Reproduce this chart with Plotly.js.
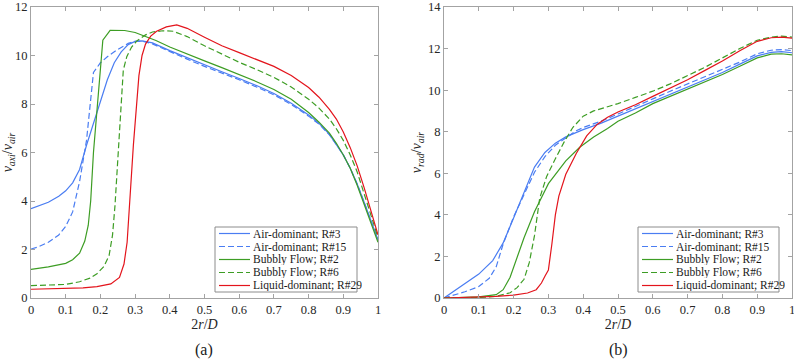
<!DOCTYPE html>
<html><head><meta charset="utf-8">
<script src="https://cdn.plot.ly/plotly-3.0.1.min.js"></script>
<style>html,body{margin:0;padding:0;background:#fff}#chart{width:794px;height:361px}</style>
</head><body><div id="chart"></div>
<script>
// ---------- data ----------
const seriesNames = ['Air-dominant; R#3','Air-dominant; R#15','Bubbly Flow; R#2','Bubbly Flow; R#6','Liquid-dominant; R#29'];
const xTicks = [0,0.1,0.2,0.3,0.4,0.5,0.6,0.7,0.8,0.9,1];
const xTickText = ['0','0.1','0.2','0.3','0.4','0.5','0.6','0.7','0.8','0.9','1'];
const yTicksA = [0,2,4,6,8,10,12];
const yTicksB = [0,2,4,6,8,10,12,14];

// (a) axial velocity
const a_r3_x  = [0,0.02,0.05,0.08,0.1,0.12,0.14,0.16,0.18,0.2,0.22,0.24,0.26,0.28,0.3,0.32,0.35,0.4,0.45,0.5,0.55,0.6,0.65,0.7,0.75,0.8,0.83,0.86,0.88,0.9,0.92,0.94,0.96,0.98,1.0];
const a_r3_y  = [3.68,3.78,3.95,4.2,4.42,4.75,5.3,6.3,7.2,8.1,9.0,9.7,10.15,10.45,10.58,10.6,10.52,10.2,9.9,9.6,9.33,9.05,8.76,8.43,8.03,7.55,7.2,6.75,6.35,5.9,5.35,4.7,3.95,3.15,2.4];
const a_r15_x = [0,0.02,0.05,0.08,0.1,0.12,0.14,0.16,0.17,0.18,0.2,0.22,0.25,0.28,0.3,0.32,0.35,0.4,0.45,0.5,0.55,0.6,0.65,0.7,0.75,0.8,0.83,0.86,0.88,0.9,0.92,0.94,0.96,0.98,1.0];
const a_r15_y = [2.02,2.1,2.3,2.6,2.95,3.55,4.8,6.5,7.9,9.3,9.7,9.95,10.25,10.5,10.58,10.6,10.48,10.15,9.85,9.55,9.28,9.0,8.7,8.38,7.98,7.5,7.17,6.73,6.33,5.9,5.35,4.7,3.95,3.15,2.4];
const a_r2_x  = [0,0.05,0.1,0.12,0.14,0.155,0.165,0.172,0.18,0.207,0.228,0.25,0.27,0.3,0.33,0.36,0.4,0.45,0.5,0.55,0.6,0.65,0.7,0.75,0.8,0.83,0.86,0.88,0.9,0.92,0.94,0.96,0.98,1.0];
const a_r2_y  = [1.18,1.28,1.43,1.58,1.85,2.35,3.0,4.0,6.0,10.63,11.04,11.05,11.03,10.95,10.8,10.62,10.35,10.08,9.78,9.5,9.22,8.92,8.6,8.2,7.65,7.25,6.8,6.38,5.9,5.35,4.65,3.85,3.05,2.3];
const a_r6_x  = [0,0.05,0.1,0.14,0.17,0.19,0.21,0.225,0.235,0.242,0.25,0.258,0.266,0.276,0.29,0.305,0.33,0.35,0.38,0.41,0.45,0.5,0.55,0.6,0.65,0.7,0.75,0.8,0.83,0.86,0.88,0.9,0.92,0.94,0.96,0.98,1.0];
const a_r6_y  = [0.51,0.52,0.56,0.67,0.82,1.0,1.3,1.75,2.6,3.8,5.8,7.8,9.4,9.95,10.35,10.6,10.85,10.97,11.02,11.0,10.78,10.4,10.05,9.72,9.42,9.1,8.7,8.2,7.83,7.38,6.98,6.5,5.9,5.2,4.3,3.4,2.5];
const a_r29_x = [0,0.05,0.1,0.15,0.19,0.23,0.255,0.268,0.277,0.285,0.295,0.311,0.32,0.33,0.345,0.362,0.39,0.42,0.45,0.5,0.55,0.6,0.65,0.7,0.75,0.8,0.83,0.86,0.88,0.9,0.92,0.94,0.96,0.98,1.0];
const a_r29_y = [0.36,0.37,0.39,0.42,0.47,0.58,0.85,1.4,2.3,4.0,6.3,9.17,10.0,10.47,10.8,11.0,11.18,11.26,11.12,10.75,10.4,10.12,9.85,9.55,9.18,8.68,8.28,7.78,7.38,6.85,6.2,5.45,4.55,3.6,2.6];

// (b) radial velocity
const b_r3_x  = [0,0.03,0.06,0.1,0.14,0.17,0.2,0.23,0.26,0.29,0.32,0.35,0.4,0.45,0.5,0.55,0.6,0.65,0.7,0.75,0.8,0.85,0.9,0.94,0.97,1.0];
const b_r3_y  = [0,0.35,0.7,1.15,1.8,2.65,3.85,5.1,6.3,7.0,7.45,7.75,8.1,8.4,8.75,9.1,9.45,9.8,10.15,10.5,10.85,11.25,11.65,11.82,11.85,11.8];
const b_r15_x = [0,0.03,0.06,0.1,0.13,0.15,0.17,0.2,0.23,0.26,0.29,0.32,0.35,0.38,0.4,0.45,0.5,0.55,0.6,0.65,0.7,0.75,0.8,0.85,0.9,0.94,0.97,1.0];
const b_r15_y = [0,0.15,0.3,0.55,0.95,1.5,2.6,3.9,5.0,6.05,6.8,7.35,7.7,8.05,8.2,8.5,8.85,9.2,9.58,9.95,10.3,10.65,10.98,11.35,11.75,11.92,11.95,11.9];
const b_r2_x  = [0,0.05,0.1,0.15,0.17,0.19,0.2,0.23,0.26,0.3,0.35,0.39,0.43,0.47,0.5,0.55,0.6,0.65,0.7,0.75,0.8,0.85,0.9,0.94,0.97,1.0];
const b_r2_y  = [0,0.02,0.05,0.16,0.4,1.0,1.5,2.9,4.15,5.5,6.6,7.25,7.75,8.15,8.5,8.9,9.35,9.7,10.05,10.4,10.75,11.15,11.55,11.73,11.75,11.7];
const b_r6_x  = [0,0.05,0.1,0.15,0.19,0.21,0.23,0.245,0.26,0.275,0.295,0.32,0.345,0.37,0.4,0.43,0.47,0.5,0.55,0.6,0.65,0.7,0.75,0.8,0.85,0.9,0.94,0.97,1.0];
const b_r6_y  = [0,0.01,0.02,0.08,0.25,0.5,0.9,1.7,3.0,4.8,5.85,6.7,7.5,8.2,8.75,9.0,9.2,9.35,9.65,9.95,10.3,10.7,11.1,11.55,12.0,12.4,12.55,12.6,12.55];
const b_r29_x = [0,0.05,0.1,0.15,0.2,0.24,0.265,0.28,0.29,0.3,0.31,0.32,0.33,0.35,0.38,0.41,0.44,0.47,0.5,0.55,0.6,0.65,0.7,0.75,0.8,0.85,0.9,0.94,0.97,1.0];
const b_r29_y = [0,0.02,0.05,0.08,0.14,0.24,0.4,0.72,1.05,1.35,2.6,4.0,4.9,5.95,6.95,7.8,8.35,8.7,8.95,9.3,9.7,10.1,10.5,10.95,11.4,11.9,12.35,12.52,12.55,12.5];

// ---------- styles ----------
const colors = ['#4a7df2','#4a7df2','#3d9d24','#3d9d24','#e3141c'];
const dashes = ['solid','6px,3px','solid','6px,3px','solid'];
const W = 794, H = 361;
const serif = 'Liberation Serif';
const axCol = '#a3a3a3';

const aX = [a_r3_x,a_r15_x,a_r2_x,a_r6_x,a_r29_x];
const aY = [a_r3_y,a_r15_y,a_r2_y,a_r6_y,a_r29_y];
const bX = [b_r3_x,b_r15_x,b_r2_x,b_r6_x,b_r29_x];
const bY = [b_r3_y,b_r15_y,b_r2_y,b_r6_y,b_r29_y];

const traces = [];
for (let i = 0; i < 5; i++) {
  traces.push({x:aX[i], y:aY[i], xaxis:'x', yaxis:'y', mode:'lines', name:seriesNames[i], showlegend:false,
    line:{color:colors[i], width:1.2, dash:dashes[i]}});
}
for (let i = 0; i < 5; i++) {
  traces.push({x:bX[i], y:bY[i], xaxis:'x2', yaxis:'y2', mode:'lines', name:seriesNames[i], showlegend:false,
    line:{color:colors[i], width:1.2, dash:dashes[i]}});
}

function ax(extra) {
  return Object.assign({showline:true, linecolor:axCol, linewidth:1, mirror:'ticks', ticks:'inside', ticklen:4,
    tickcolor:axCol, tickwidth:1, showgrid:false, zeroline:false, fixedrange:true, ticklabeloverflow:'allow',
    tickfont:{family:serif, size:12.5, color:'#262626'}}, extra);
}
const px = v => v / W, py = v => 1 - v / H;

const shapes = [], annotations = [];
function legendBox(x0, x1, y0, y1, lineX0, lineX1, textX) {
  shapes.push({type:'rect', xref:'paper', yref:'paper', x0:px(x0), x1:px(x1), y0:py(y1), y1:py(y0),
    line:{color:'#8c8c8c', width:1}, fillcolor:'#ffffff', layer:'above'});
  const rowH = (y1 - y0) / 5;
  for (let i = 0; i < 5; i++) {
    const yc = y0 + rowH * (i + 0.5);
    shapes.push({type:'line', xref:'paper', yref:'paper', x0:px(lineX0), x1:px(lineX1), y0:py(yc), y1:py(yc),
      line:{color:colors[i], width:1.2, dash:dashes[i]}, layer:'above'});
    annotations.push({xref:'paper', yref:'paper', x:px(textX), y:py(yc), xanchor:'left', yanchor:'middle',
      height:11, borderpad:0, valign:'middle',
      text:seriesNames[i], showarrow:false, font:{family:serif, size:11.5, color:'#1a1a1a'}});
  }
}
legendBox(215, 357, 227, 292, 219, 250, 252);
legendBox(638, 779, 227, 292, 642, 673, 675);

annotations.push({xref:'paper', yref:'paper', x:px(204), y:py(350), xanchor:'center', yanchor:'middle',
  text:'(a)', showarrow:false, font:{family:serif, size:16, color:'#1a1a1a'}});
annotations.push({xref:'paper', yref:'paper', x:px(618), y:py(350), xanchor:'center', yanchor:'middle',
  text:'(b)', showarrow:false, font:{family:serif, size:16, color:'#1a1a1a'}});

const xTitle = {text:'2<i>r</i>/<i>D</i>', font:{family:serif, size:14, color:'#262626'}, standoff:3};

const layout = {
  width:W, height:H, margin:{l:0, r:0, t:0, b:0}, paper_bgcolor:'#fff', plot_bgcolor:'#fff',
  showlegend:false,
  xaxis: ax({domain:[px(31), px(378)], range:[0,1], tickvals:xTicks, ticktext:xTickText, anchor:'y', title:xTitle}),
  yaxis: ax({domain:[py(298), py(7)], range:[0,12], tickvals:yTicksA, anchor:'x',
    title:{text:'<i>v<sub>axi</sub></i>/<i>v<sub>air</sub></i>', font:{family:serif, size:14, color:'#262626'}, standoff:3}}),
  xaxis2: ax({domain:[px(444), px(792)], range:[0,1], tickvals:xTicks, ticktext:xTickText, anchor:'y2', title:xTitle}),
  yaxis2: ax({domain:[py(298), py(7)], range:[0,14], tickvals:yTicksB, anchor:'x2',
    title:{text:'<i>v<sub>rad</sub></i>/<i>v<sub>air</sub></i>', font:{family:serif, size:14, color:'#262626'}, standoff:3}}),
  shapes:shapes, annotations:annotations
};

Plotly.newPlot('chart', traces, layout, {displayModeBar:false, staticPlot:true});
</script>
</body></html>
